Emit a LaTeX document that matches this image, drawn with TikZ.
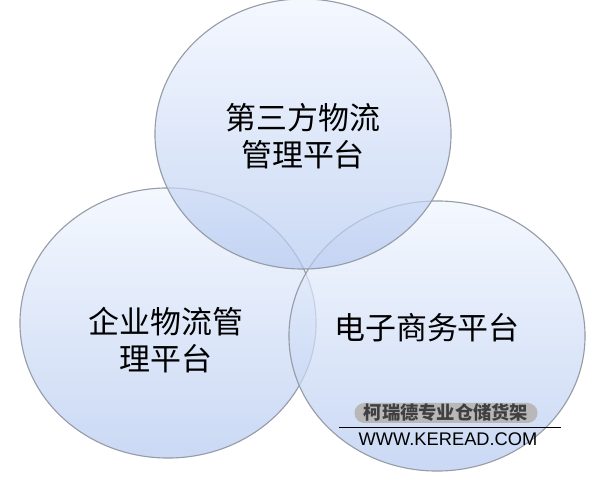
\documentclass[tikz,border=0pt]{standalone}
\usepackage{fontspec}
\setmainfont{Liberation Sans}
\newfontfamily\cjk{Noto Sans CJK SC}
\usetikzlibrary{shapes.geometric}
\definecolor{ringedge}{RGB}{150,156,168}
\definecolor{ringtop}{RGB}{240,245,254}
\definecolor{ringbot}{RGB}{182,202,240}
\tikzset{
    ring/.style = {
        draw=ringedge,
        shape=ellipse,
        minimum width=7.4cm,
        minimum height=6.75cm,
        inner sep=0pt,
        line width=0.8pt,
        top color=ringtop,
        bottom color=ringbot,
        fill opacity=0.72
    },
    ringtext/.style = {
        font=\cjk\fontsize{22}{26}\selectfont,
        align=center,
        text=black
    },
    stamp/.style = {
        shape=rectangle,
        rounded corners=0.25cm,
        fill=black!28,
        minimum width=4.575cm,
        minimum height=0.5cm,
        inner sep=0pt,
        text=black!75,
        font=\cjk\bfseries\fontsize{13}{14}\selectfont
    },
    site/.style = {
        font=\fontsize{13}{14}\selectfont,
        inner sep=0pt
    },
}
\begin{document}
\begin{tikzpicture}[x=0.025cm, y=-0.025cm]
    \useasboundingbox (0,0) rectangle (600,477);

    % three rings
    \node[ring] (firm) at (168,323) {};
    \node[ring] (ecom) at (437,336) {};
    \node[ring] (third) at (303,134) {};

    \node[ringtext] (thirdtxt) at (303,136) {第三方物流\\管理平台};
    \node[ringtext] (firmtxt) at (166,340) {企业物流管\\理平台};
    \node[ringtext] (ecomtxt) at (427,328) {电子商务平台};

    % watermark
    \node[stamp] (brand) at (446,413) {柯瑞德专业仓储货架};
    \coordinate (rulea) at (339,427);
    \coordinate (ruleb) at (561,427);
    \draw[line width=0.7pt] (rulea) -- (ruleb);
    \node[site] (web) at (448,439) {WWW.KEREAD.COM};
\end{tikzpicture}
\end{document}
